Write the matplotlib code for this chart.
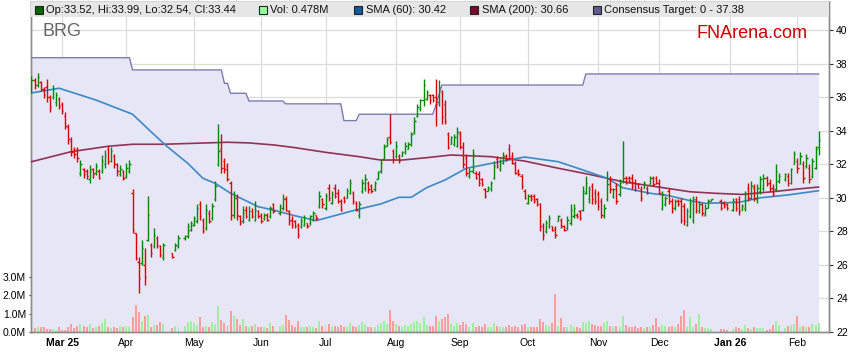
import numpy as np
import pandas as pd
import matplotlib
matplotlib.use("Agg")
import matplotlib.pyplot as plt
import matplotlib.transforms as mtransforms
from matplotlib.patches import Rectangle

plt.rcParams["font.family"] = ["Liberation Sans", "DejaVu Sans"]

# weekday slots from 17 Feb 2025; None = ASX holiday
dates = pd.bdate_range("2025-02-17", periods=258)

opens = [36.4, 37.0, 36.7, 36.9, 36.5, 36.6, 36.0, 36.0, 35.7, 35.9,
         35.6, 34.9, 34.2, 33.4, 32.9, 32.9, 31.5, 31.7, 31.6, 31.1,
         31.7, 31.5, 31.6, 31.6, 32.0, 32.9, 32.2, 32.5, 32.0, 31.4,
         31.6, 31.3, 31.6, 30.3, 27.9, 26.2, 26.1, 26.0, 27.5, 27.2,
         27.1, 27.6, 27.1, 26.5, None, None, 26.7, 26.9, 27.1, None,
         27.6, 27.7, 28.1, 28.4, 28.6, 29.6, 28.7, 28.2, 29.1, 28.8,
         29.9, 32.0, 32.9, 32.2, 31.9, 30.9, 29.0, 30.0, 28.9, 28.6,
         29.3, 28.7, 29.2, 28.7, 29.2, 29.0, 28.8, 29.0, 28.9, 29.6,
         None, 29.1, 29.4, 29.9, 29.2, 28.7, 28.6, 28.4, 28.3, 28.4,
         28.5, 28.5, 28.7, 29.0, 29.5, 29.9, 29.4, 30.6, 29.7, 30.6,
         30.3, 29.8, 30.0, 30.0, 30.3, 30.3, 29.7, 29.0, 30.4, 30.6,
         30.9, 30.7, 30.5, 31.1, 31.6, 32.3, 33.1, 33.6, 32.8, 32.5,
         32.5, 32.5, 32.7, 32.9, 33.2, 33.9, 34.9, 35.3, 35.8, 35.9,
         36.1, 36.1, 36.0, 35.7, 36.3, 35.6, 33.8, 33.2, 33.2, 33.1,
         33.8, 33.1, 32.4, 31.3, 31.6, 31.5, 31.4, 31.1, 30.5, 30.4,
         30.5, 31.2, 32.3, 31.7, 32.1, 32.5, 32.9, 32.5, 32.0, 31.6,
         31.3, 30.4, 29.7, 30.1, 30.1, 29.9, 29.6, 28.3, 28.0, 28.3,
         28.3, 28.2, 28.6, 28.7, 28.3, 28.2, 28.5, 28.9, 29.0, 29.2,
         29.3, 30.3, 29.9, 30.7, 30.3, 30.2, 29.8, 28.9, 29.9, 31.1,
         30.1, 30.7, 30.2, 31.0, 31.2, 31.2, 31.2, 30.9, 30.8, 30.5,
         30.6, 30.6, 30.8, 31.2, 31.2, 30.9, 29.4, 29.6, 30.4, 29.8,
         29.4, 29.8, 29.8, 29.5, 28.4, 28.9, 28.7, 29.9, 29.2, 29.6,
         29.0, 29.4, 29.8, None, None, 29.8, 29.7, 29.6, None, 29.3,
         29.9, 29.9, 29.3, 29.4, 30.6, 30.0, 30.6, 29.9, 30.4, 30.6,
         31.2, 30.9, 30.6, 30.5, 31.0, None, 31.1, 31.3, 30.9, 32.0,
         32.2, 32.0, 32.0, 31.9, 31.8, 31.3, 31.8, 33.0]
highs = [37.28, 37.16, 37.41, 36.95, 36.6, 37.1, 36.1, 36.7, 36.3, 36.0,
         35.7, 35.1, 34.4, 33.6, 33.05, 33.05, 32.25, 31.8, 31.7, 31.95,
         31.75, 32.05, 31.7, 32.55, 32.85, 33.1, 33.05, 32.6, 32.05, 31.95,
         31.65, 32.05, 32.25, 30.5, 27.9, 26.5, 27.5, 27.0, 30.1, 27.3,
         28.2, 27.7, 27.2, 27.3, None, None, 26.7, 27.3, 27.8, None,
         27.8, 28.5, 28.6, 28.9, 29.6, 29.8, 28.8, 29.6, 29.3, 29.7,
         31.0, 34.4, 33.8, 32.4, 32.1, 31.0, 30.4, 30.2, 29.0, 29.5,
         29.5, 29.5, 29.4, 29.8, 29.3, 29.1, 29.1, 29.1, 29.5, 29.7,
         None, 29.6, 30.2, 30.1, 29.3, 28.9, 28.7, 28.5, 28.8, 29.0,
         28.5, 29.0, 29.2, 29.0, 30.4, 30.0, 30.3, 30.8, 30.4, 30.8,
         30.5, 29.9, 30.1, 30.6, 31.1, 30.4, 29.8, 29.8, 31.1, 31.4,
         31.0, 30.8, 31.0, 31.6, 32.3, 33.2, 33.6, 35.0, 32.9, 33.4,
         32.6, 32.8, 33.3, 33.3, 33.9, 34.8, 35.6, 35.9, 37.1, 36.4,
         36.2, 36.2, 37.1, 37.0, 36.4, 35.8, 33.9, 33.7, 33.8, 34.2,
         34.0, 33.3, 32.6, 31.8, 32.9, 31.6, 31.6, 31.2, 30.6, 30.7,
         31.0, 32.2, 32.5, 32.3, 32.7, 32.6, 33.2, 32.7, 32.2, 31.7,
         31.4, 30.5, 30.2, 30.2, 30.2, 30.0, 29.7, 28.5, 28.7, 29.0,
         28.3, 28.3, 29.0, 28.8, 28.4, 28.9, 29.6, 29.6, 29.1, 29.3,
         30.7, 31.3, 30.7, 30.9, 30.5, 30.4, 30.0, 29.6, 31.6, 31.3,
         30.6, 30.9, 31.1, 33.4, 31.3, 31.3, 31.4, 31.1, 30.9, 30.7,
         31.0, 30.7, 31.3, 31.3, 31.3, 31.1, 30.4, 30.1, 30.6, 30.0,
         29.9, 29.9, 30.0, 29.7, 29.4, 30.0, 30.1, 30.1, 29.8, 29.7,
         29.6, 29.9, 29.9, None, None, 29.9, 29.8, 29.7, None, 30.0,
         30.0, 30.1, 29.6, 30.4, 30.9, 31.0, 30.8, 30.8, 31.3, 31.4,
         31.3, 31.1, 30.8, 32.0, 31.5, None, 31.5, 31.5, 31.8, 32.8,
         32.4, 32.7, 32.2, 32.6, 32.0, 32.4, 33.1, 33.99]
lows = [36.23, 36.5, 36.6, 36.36, 35.95, 35.7, 35.1, 35.9, 35.5, 35.3,
        35.0, 34.1, 33.2, 32.5, 32.4, 32.15, 31.3, 31.2, 31.1, 30.9,
        31.2, 31.35, 31.1, 31.45, 31.8, 32.0, 32.15, 31.8, 31.3, 31.3,
        31.05, 31.2, 31.45, 27.9, 26.3, 24.3, 26.0, 24.8, 27.4, 26.5,
        27.0, 27.0, 26.5, 26.3, None, None, 26.4, 26.8, 27.0, None,
        27.5, 27.6, 28.0, 28.3, 28.5, 28.7, 27.9, 28.1, 28.5, 28.7,
        29.8, 31.9, 31.5, 31.5, 31.0, 28.7, 28.8, 28.7, 28.4, 28.5,
        28.8, 28.6, 28.8, 28.6, 28.8, 28.5, 28.7, 28.6, 28.8, 29.1,
        None, 29.0, 29.3, 29.2, 28.4, 28.2, 28.2, 27.6, 28.2, 28.3,
        28.2, 28.4, 28.6, 28.7, 29.4, 29.4, 29.3, 29.8, 29.6, 30.0,
        29.7, 29.2, 29.7, 30.0, 30.2, 29.6, 29.2, 28.8, 30.3, 30.4,
        30.3, 30.3, 30.4, 31.1, 31.5, 32.3, 33.1, 33.2, 32.1, 32.4,
        32.1, 32.5, 32.6, 32.9, 33.1, 33.8, 34.8, 35.2, 35.5, 35.8,
        35.6, 35.7, 34.3, 35.5, 34.4, 34.4, 32.9, 33.2, 33.1, 33.0,
        32.9, 31.8, 31.3, 31.2, 31.5, 31.1, 30.7, 30.7, 30.0, 30.4,
        30.4, 31.1, 31.8, 31.6, 32.0, 32.2, 32.3, 32.0, 31.4, 31.3,
        30.5, 29.9, 29.6, 29.8, 29.7, 29.5, 28.0, 27.5, 27.9, 28.2,
        28.0, 27.6, 28.6, 28.2, 28.0, 28.1, 28.4, 28.8, 28.8, 28.7,
        29.2, 30.2, 29.7, 29.6, 29.6, 29.3, 28.8, 28.8, 29.8, 30.3,
        30.0, 29.6, 30.1, 30.9, 30.8, 30.9, 30.5, 30.4, 30.6, 29.8,
        30.6, 30.2, 30.8, 30.7, 30.8, 30.2, 29.3, 29.5, 29.6, 29.1,
        29.3, 29.5, 28.5, 28.4, 28.3, 28.8, 28.5, 29.1, 29.1, 28.9,
        28.9, 29.4, 29.8, None, None, 29.3, 29.4, 29.3, None, 29.2,
        29.2, 29.0, 29.3, 29.2, 29.8, 29.9, 29.8, 29.7, 30.2, 30.4,
        30.7, 30.4, 30.1, 30.4, 30.9, None, 31.0, 30.7, 30.8, 32.0,
        31.5, 32.0, 30.9, 31.8, 30.9, 31.2, 31.7, 32.54]
closes = [37.0, 36.7, 37.2, 36.5, 36.1, 36.0, 35.4, 36.5, 36.1, 35.5,
          35.2, 34.3, 33.5, 32.7, 32.6, 32.4, 32.0, 31.4, 31.3, 31.6,
          31.4, 31.9, 31.2, 32.2, 32.5, 32.2, 32.8, 32.0, 31.6, 31.7,
          31.2, 31.8, 32.0, 28.1, 26.4, 25.2, 27.0, 25.3, 29.0, 26.7,
          27.8, 27.2, 26.6, 27.2, None, None, 26.5, 27.2, 27.6, None,
          27.7, 28.3, 28.5, 28.8, 29.4, 28.9, 28.0, 29.3, 28.6, 29.5,
          30.7, 32.8, 31.8, 31.7, 31.1, 29.0, 30.0, 29.0, 28.5, 29.1,
          28.9, 29.2, 28.9, 29.3, 28.9, 28.6, 29.0, 28.7, 29.4, 29.2,
          None, 29.5, 30.0, 29.3, 28.6, 28.4, 28.3, 27.8, 28.6, 28.8,
          28.3, 28.9, 29.1, 28.8, 30.1, 29.6, 30.1, 30.0, 30.2, 30.1,
          29.8, 29.3, 29.8, 30.4, 30.9, 29.8, 29.3, 29.6, 30.9, 31.1,
          30.5, 30.4, 30.9, 31.5, 32.1, 33.0, 33.5, 33.3, 32.3, 33.1,
          32.2, 32.7, 33.1, 33.2, 33.8, 34.6, 35.4, 35.8, 36.7, 36.3,
          35.8, 35.8, 35.6, 36.6, 34.8, 34.6, 33.0, 33.6, 33.6, 33.9,
          33.0, 32.0, 31.5, 31.6, 32.6, 31.2, 30.9, 30.8, 30.1, 30.6,
          30.9, 31.9, 31.9, 32.1, 32.5, 32.3, 32.4, 32.1, 31.5, 31.4,
          30.7, 30.0, 30.1, 29.9, 29.8, 29.6, 28.3, 27.8, 28.5, 28.8,
          28.1, 27.8, 28.9, 28.3, 28.1, 28.7, 29.3, 29.4, 28.9, 28.8,
          30.4, 30.9, 30.5, 29.9, 29.8, 29.5, 29.0, 29.4, 30.8, 30.5,
          30.5, 29.8, 30.9, 31.2, 30.9, 31.0, 30.7, 30.5, 30.6, 30.0,
          30.9, 30.3, 31.2, 30.8, 30.9, 30.3, 30.2, 30.0, 29.8, 29.2,
          29.8, 29.6, 28.7, 28.6, 29.2, 29.7, 29.9, 29.3, 29.6, 29.1,
          29.4, 29.8, 29.9, None, None, 29.4, 29.5, 29.4, None, 29.8,
          29.4, 29.2, 29.5, 30.2, 30.0, 30.7, 30.0, 30.6, 31.1, 31.2,
          30.8, 30.5, 30.2, 31.6, 31.3, None, 31.4, 30.9, 31.7, 32.6,
          31.8, 32.5, 31.2, 32.4, 31.1, 32.2, 32.9, 33.44]
# volume in millions of shares
volume = [0.5, 0.2, 0.25, 0.25, 0.25, 0.15, 0.15, 0.15, 0.1, 0.3,
          0.1, 0.1, 0.3, 0.45, 0.2, 0.35, 0.45, 0.35, 0.3, 0.45,
          0.2, 0.3, 0.35, 0.5, 0.7, 0.3, 0.2, 0.3, 0.2, 0.35,
          0.25, 0.35, 0.3, 0.8, 1.5, 1.1, 0.6, 0.9, 0.95, 0.3,
          0.4, 0.4, 0.55, 0.45, None, None, 0.2, 0.35, 0.25, None,
          0.35, 0.55, 0.6, 0.5, 0.4, 0.8, 0.25, 0.35, 0.3, 0.55,
          0.45, 1.4, 0.65, 0.5, 0.35, 1.15, 0.9, 0.7, 0.4, 0.7,
          0.35, 0.3, 0.35, 0.45, 0.25, 0.3, 0.3, 0.2, 0.5, 0.35,
          None, 0.35, 0.4, 0.95, 0.65, 0.4, 0.3, 0.6, 0.3, 0.25,
          0.3, 0.35, 0.3, 0.2, 0.6, 0.35, 0.4, 0.45, 0.3, 0.35,
          0.3, 0.4, 0.25, 0.3, 0.5, 0.35, 0.3, 0.4, 0.55, 0.45,
          0.3, 0.25, 0.3, 0.4, 0.5, 0.6, 0.45, 1.2, 0.6, 0.45,
          0.35, 0.3, 0.4, 0.35, 0.45, 0.55, 0.6, 0.5, 0.8, 0.4,
          0.35, 0.35, 0.9, 0.6, 0.7, 0.8, 1.0, 0.45, 0.35, 0.5,
          0.4, 0.55, 0.45, 0.3, 0.5, 0.3, 0.35, 0.25, 0.45, 0.25,
          0.3, 0.5, 0.35, 0.3, 0.3, 0.25, 0.4, 0.3, 0.35, 0.25,
          0.4, 0.45, 0.3, 0.25, 0.3, 0.3, 0.7, 0.55, 0.4, 0.35,
          0.5, 2.1, 0.35, 0.75, 0.3, 0.3, 0.4, 0.3, 0.25, 0.2,
          0.55, 0.5, 0.6, 0.45, 0.4, 0.35, 0.35, 0.5, 0.6, 0.35,
          0.25, 0.35, 0.25, 0.9, 0.4, 0.25, 0.3, 0.35, 0.2, 0.25,
          0.2, 0.3, 0.3, 0.4, 0.75, 0.3, 0.4, 0.35, 0.3, 0.35,
          0.25, 0.45, 0.9, 1.2, 0.3, 0.8, 0.3, 0.45, 1.0, 0.3,
          0.2, 0.2, 0.15, None, None, 0.15, 0.15, 0.1, None, 0.15,
          0.25, 0.2, 0.15, 0.4, 0.2, 0.15, 0.3, 0.2, 0.2, 0.2,
          0.1, 0.15, 0.4, 0.6, 0.4, None, 0.2, 0.35, 0.4, 0.45,
          0.9, 0.3, 0.35, 0.3, 0.25, 0.45, 0.4, 0.478]

# moving averages read at some trading days
sma60_day = [0, 9, 21, 33, 39, 44, 51, 56, 60, 65, 74, 79, 86, 93, 107, 114, 120,
             124, 129, 135, 142, 154, 161, 172, 180, 188, 193, 202, 208, 215,
             220, 231, 238, 247, 257]
sma60_val = [36.25, 36.53, 35.83, 34.98, 33.94, 33.1, 32.06, 31.16, 30.86, 30.27,
             29.47, 29.27, 28.93, 28.64, 29.33, 29.63, 30.03, 30.03, 30.6, 31.06,
             31.76, 32.19, 32.43, 32.15, 31.66, 31.16, 30.6, 30.27, 30.13, 29.83,
             29.67, 29.73, 30.0, 30.17, 30.42]
sma200_day = [0, 13, 25, 33, 43, 64, 71, 79, 86, 96, 107, 114, 121, 129, 137, 150,
              161, 172, 182, 193, 204, 215, 223, 232, 242, 250, 257]
sma200_val = [32.15, 32.75, 33.07, 33.19, 33.19, 33.31, 33.27, 33.15, 32.99, 32.71,
              32.45, 32.25, 32.25, 32.39, 32.55, 32.45, 32.19, 31.76, 31.4, 30.96,
              30.66, 30.36, 30.27, 30.2, 30.36, 30.52, 30.64]

# consensus target: day it changed and new level
target_from = [0, 33, 63, 65, 71, 83, 102, 107, 132, 133, 134, 181]
target_val = [38.35, 37.62, 36.82, 36.23, 35.77, 35.6, 34.6, 34.98, 35.5, 36.1, 36.72, 37.38]

price_ticks = [22, 24, 26, 28, 30, 32, 34, 36, 38, 40]
vol_ticks = [0, 1, 2, 3]

x = np.arange(len(dates))
o = np.array(opens, dtype=float)
h = np.array(highs, dtype=float)
l = np.array(lows, dtype=float)
c = np.array(closes, dtype=float)
v = np.array(volume, dtype=float)
up = c >= o
dn = c < o
target = np.repeat(target_val, np.diff(target_from + [len(dates)]))

W, H = 859, 363
fig = plt.figure(figsize=(W / 100, H / 100), dpi=100)
ax_v = fig.add_axes([31 / W, 31 / H, 798 / W, 330 / H])
ax_p = ax_v.twinx()
ax_v.set_xlim(-0.16, 260.4)
ax_v.set_ylim(0, 18.0)
ax_p.set_ylim(22, 41.67)

# grid (hidden under the lavender fill)
month_pos = [i for i in range(1, len(dates)) if dates[i].month != dates[i - 1].month]
month_lab = [dates[i].strftime("%b %y") if (k == 0 or dates[i].month == 1) else dates[i].strftime("%b")
             for k, i in enumerate(month_pos)]
ax_v.set_xticks(month_pos)
ax_v.set_xticklabels(month_lab)
ax_v.set_axisbelow(True)
ax_v.grid(axis="x", color="#dcdcdc", lw=0.9)
blend = mtransforms.blended_transform_factory(ax_v.transAxes, ax_p.transData)
ax_v.hlines(price_ticks, 0, 1, transform=blend, color="#dcdcdc", lw=0.9, zorder=0.5)

# lavender area under the consensus target
ax_v.fill_between(x, 22, target, color="#e6e6f6", lw=0, zorder=1, transform=ax_p.transData)

# volume
ok = ~np.isnan(v)
ax_v.bar(x[ok & up], v[ok & up], width=0.65, color="#9ef09e", zorder=2)
ax_v.bar(x[ok & dn], v[ok & dn], width=0.65, color="#ff9c9c", zorder=2)

# target, moving averages
ax_p.plot(x, target, color="#7c7cae", lw=1.0, zorder=3)
ax_p.plot(sma200_day, sma200_val, color="#8a1f42", lw=1.2, alpha=0.9, zorder=3)
ax_p.plot(sma60_day, sma60_val, color="#3a8ac8", lw=1.2, zorder=3)

# OHLC bars
for mask, col in [(up, "#008a00"), (dn, "#dd0000")]:
    ax_p.vlines(x[mask], l[mask], h[mask], color=col, lw=1.0, zorder=4)
    ax_p.hlines(o[mask], x[mask] - 0.45, x[mask], color=col, lw=1.0, zorder=4)
    ax_p.hlines(c[mask], x[mask], x[mask] + 0.45, color=col, lw=1.0, zorder=4)

# axes styling
for a in (ax_v, ax_p):
    for s in a.spines.values():
        s.set_color("#8c8c8c")
        s.set_linewidth(1.0)
ax_v.set_yticks(vol_ticks)
ax_v.set_yticklabels([f"{t:.1f}M" for t in vol_ticks])
ax_v.tick_params(axis="y", labelsize=7.5, length=3, direction="inout", color="#333333", pad=2)
ax_v.tick_params(axis="x", labelsize=7.5, length=0, pad=4)
for t in ax_v.get_xticklabels():
    if " " in t.get_text():
        t.set_fontweight("bold")
ax_p.set_yticks(price_ticks)
ax_p.tick_params(axis="y", labelsize=7.5, length=3, color="#333333", pad=2)

# legend band
ax_p.add_patch(Rectangle((31.5 / W, 1 - 17 / H), 797 / W, 14.5 / H, transform=fig.transFigure,
                         facecolor="#e6e6e6", edgecolor="none", zorder=10, clip_on=False))
legend_items = [
    (35, "#006400", "Op:33.52, Hi:33.99, Lo:32.54, Cl:33.44"),
    (259, "#99ff99", "Vol: 0.478M"),
    (354, "#0f5c9c", "SMA (60): 30.42"),
    (470, "#7a0c2a", "SMA (200): 30.66"),
    (593, "#5c5c8f", "Consensus Target: 0 - 37.38"),
]
for px, col, txt in legend_items:
    ax_p.add_patch(Rectangle((px / W, 1 - 13.5 / H), 7.5 / W, 7.5 / H, transform=fig.transFigure,
                             facecolor=col, edgecolor="#222222", lw=0.8, zorder=11, clip_on=False))
    fig.text((px + 11.5) / W, 1 - 10 / H, txt, fontsize=8, va="center", ha="left", color="#111111")

fig.text(42 / W, 1 - 31 / H, "BRG", fontsize=13, color="#666666", va="center", ha="left")
fig.text(808 / W, 1 - 33 / H, "FNArena.com", fontsize=13, color="#cc0000", va="center", ha="right")

fig.savefig("out.png", dpi=100)
